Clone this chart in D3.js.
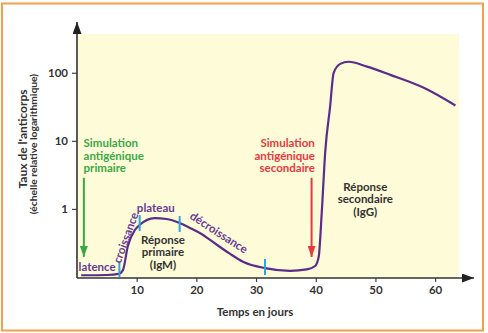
<!DOCTYPE html>
<html>
<head>
<meta charset="utf-8">
<script src="https://cdn.jsdelivr.net/npm/d3@7"></script>
<style>
  body { margin: 0; background: #fff; }
  text { font-family: Lato, "Open Sans", sans-serif; font-weight: 700; }
</style>
</head>
<body>
<div id="chart"></div>
<script>
// 1: DATA
const days   = [0.7, 5, 7, 7.7, 8.5, 9.7, 10.5, 13, 15, 17.2, 19, 21, 22.3, 25.6, 27.8, 31.5, 35.7, 38.5, 39.9, 40.5, 41, 41.6, 42.4, 43, 44.1, 45.5, 48.6, 52.5, 58.1, 63.4];
const levels = [0.106, 0.107, 0.111, 0.126, 0.28, 0.49, 0.58, 0.73, 0.71, 0.62, 0.52, 0.42, 0.35, 0.22, 0.168, 0.135, 0.123, 0.129, 0.145, 0.2, 0.87, 7.1, 31.6, 100, 135, 145, 123, 93, 60, 33];

const xTicks = [10, 20, 30, 40, 50, 60];
const yTicks = [1, 10, 100];

// phase separators (day, level on the curve)
const phaseDays   = [7.1, 10.5, 17.2, 31.5];
const phaseLevels = [0.13, 0.62, 0.6, 0.14];

// 2: SIZES
const W = 488, H = 333;
const margin = { top: 34, left: 77, right: 29, bottom: 55 };
const width = W - margin.left - margin.right;
const height = H - margin.top - margin.bottom;

const svg = d3.select("#chart").append("svg")
    .attr("width", W)
    .attr("height", H);

// frame
svg.append("rect")
    .attr("x", 2).attr("y", 3.5)
    .attr("width", 481).attr("height", 327)
    .attr("fill", "#fff")
    .attr("stroke", "#f3a04c")
    .attr("stroke-width", 2);

const defs = svg.append("defs");
function marker(id, color, w, h) {
    defs.append("marker")
        .attr("id", id)
        .attr("viewBox", `0 0 ${h} ${w}`)
        .attr("refX", h).attr("refY", w / 2)
        .attr("markerWidth", h).attr("markerHeight", w)
        .attr("markerUnits", "userSpaceOnUse")
        .attr("orient", "auto")
        .append("path")
        .attr("d", `M0,0L${h},${w / 2}L0,${w}Z`)
        .attr("fill", color);
}
marker("arrAxis", "#222", 9, 12);
marker("arrGreen", "#3aa845", 8, 11);
marker("arrRed", "#e8393f", 8, 11);

const g = svg.append("g")
    .attr("transform", `translate(${margin.left},${margin.top})`);

// 3: SCALES
const x = d3.scaleLinear().domain([0, 64]).range([0, width]);
const y = d3.scaleLog().domain([0.0966, 371]).range([height, 0]);

g.append("rect")
    .attr("width", width).attr("height", height)
    .attr("fill", "#fefbd8");

// 4: AXES
const xAxis = g.append("g")
    .attr("transform", `translate(0,${height})`)
    .call(d3.axisBottom(x).tickValues(xTicks).tickSize(4).tickPadding(4).tickSizeOuter(0));
const yAxis = g.append("g")
    .call(d3.axisLeft(y).tickValues(yTicks).tickFormat(d3.format("d")).tickSize(5).tickPadding(4).tickSizeOuter(0));

[xAxis, yAxis].forEach(a => {
    a.select(".domain").remove();
    a.selectAll("line").attr("stroke", "#444").attr("stroke-width", 1.2);
    a.selectAll("text").attr("fill", "#333").style("font-size", "11.5px");
});

g.append("line")
    .attr("x1", 0).attr("y1", height)
    .attr("x2", 397).attr("y2", height)
    .attr("stroke", "#333").attr("stroke-width", 1.6)
    .attr("marker-end", "url(#arrAxis)");
g.append("line")
    .attr("x1", 0).attr("y1", height)
    .attr("x2", 0).attr("y2", -12)
    .attr("stroke", "#333").attr("stroke-width", 1.6)
    .attr("marker-end", "url(#arrAxis)");

// axis titles
svg.append("text")
    .attr("x", 255).attr("y", 316)
    .attr("text-anchor", "middle")
    .attr("fill", "#333")
    .style("font-size", "11.5px")
    .text("Temps en jours");

svg.append("text")
    .attr("transform", "translate(26.5,139) rotate(-90)")
    .attr("text-anchor", "middle")
    .attr("fill", "#333")
    .style("font-size", "12px")
    .text("Taux de l'anticorps");
svg.append("text")
    .attr("transform", "translate(36.5,144) rotate(-90)")
    .attr("text-anchor", "middle")
    .attr("fill", "#333")
    .style("font-size", "10.3px")
    .text("(échelle relative logarithmique)");

// 5: CURVE
const pts = days.map((d, i) => [d, levels[i]]);
const line = d3.line()
    .x(d => x(d[0]))
    .y(d => y(d[1]))
    .curve(d3.curveMonotoneX);

g.append("path")
    .datum(pts)
    .attr("fill", "none")
    .attr("stroke", "#5b2c8a")
    .attr("stroke-width", 2.2)
    .attr("d", line);

g.selectAll(".phase")
    .data(phaseDays)
    .enter()
    .append("line")
    .attr("class", "phase")
    .attr("x1", d => x(d)).attr("x2", d => x(d))
    .attr("y1", (d, i) => y(phaseLevels[i]) - 8)
    .attr("y2", (d, i) => y(phaseLevels[i]) + 8)
    .attr("stroke", "#29a9df")
    .attr("stroke-width", 2);

// 6: LABELS
const purple = "#653a96";
g.append("text")
    .attr("x", x(0.27)).attr("y", y(0.123))
    .attr("fill", purple).style("font-size", "11.5px")
    .text("latence");

g.append("text")
    .attr("transform", `translate(${x(8.8)},${y(0.36)}) rotate(-70)`)
    .attr("text-anchor", "middle")
    .attr("fill", purple).style("font-size", "11.5px")
    .text("croissance");

g.append("text")
    .attr("x", x(13.2)).attr("y", y(0.9))
    .attr("text-anchor", "middle")
    .attr("fill", purple).style("font-size", "11.5px")
    .text("plateau");

g.append("text")
    .attr("transform", `translate(${x(23.4)},${y(0.4)}) rotate(33)`)
    .attr("text-anchor", "middle")
    .attr("fill", purple).style("font-size", "11.5px")
    .text("décroissance");

function block(lines, day, level, anchor, color, lh) {
    const t = g.append("text")
        .attr("x", x(day)).attr("y", y(level))
        .attr("text-anchor", anchor)
        .attr("fill", color)
        .style("font-size", "11.5px");
    lines.forEach((s, i) => {
        t.append("tspan")
            .attr("x", x(day))
            .attr("dy", i === 0 ? 0 : lh)
            .text(s);
    });
}

block(["Réponse", "primaire", "(IgM)"], 14.4, 0.31, "middle", "#333", 12.5);
block(["Réponse", "secondaire", "(IgG)"], 48.3, 1.86, "middle", "#333", 12.5);
block(["Simulation", "antigénique", "primaire"], 1.1, 8.1, "start", "#3aa845", 12.5);
block(["Simulation", "antigénique", "secondaire"], 39.85, 8.1, "end", "#e8393f", 12.5);

// stimulation arrows
g.append("line")
    .attr("x1", x(1.15)).attr("x2", x(1.15))
    .attr("y1", y(2.86)).attr("y2", y(0.197))
    .attr("stroke", "#3aa845").attr("stroke-width", 2)
    .attr("marker-end", "url(#arrGreen)");
g.append("line")
    .attr("x1", x(39.3)).attr("x2", x(39.3))
    .attr("y1", y(2.86)).attr("y2", y(0.197))
    .attr("stroke", "#e8393f").attr("stroke-width", 2)
    .attr("marker-end", "url(#arrRed)");
</script>
</body>
</html>
